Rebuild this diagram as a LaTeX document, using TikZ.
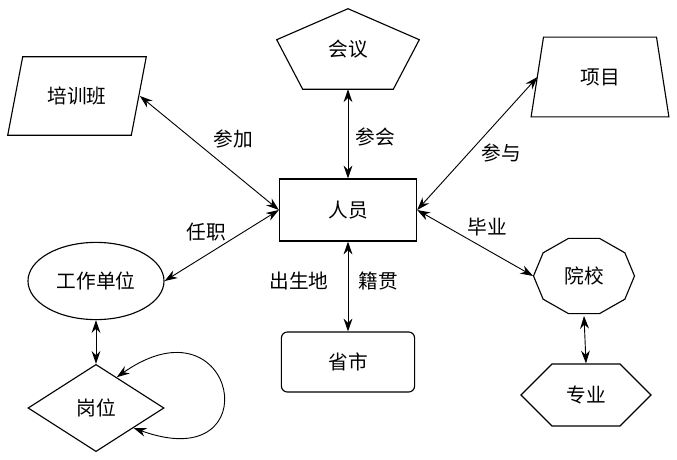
\documentclass[tikz,border=0pt]{standalone}
\usepackage{fontspec}
\usepackage{tikz}
\usetikzlibrary{shapes.geometric,shapes.symbols,arrows.meta,calc}
\newfontfamily\cjkfont{Noto Sans CJK SC}
\tikzset{
    every node/.style={font=\cjkfont\fontsize{14}{17}\selectfont, inner sep=0pt}
}
\tikzset{
    every edge/.append style={<->, line width=0.65pt}
}
\tikzset{
    >={Stealth[length=3.2mm,width=2.2mm]},
    outline/.style={draw, line width=0.8pt},
    selfloop/.style={out=35,in=-20,looseness=7}
}

\begin{document}
\begin{tikzpicture}[x=0.025cm,y=-0.025cm]
	\useasboundingbox (0,0) rectangle (677,460);
	\node [outline, minimum width=3.43cm, minimum height=1.55cm] (person) at (348,210) {人员};
	\node [outline, rounded corners=0.15cm, minimum width=3.33cm, minimum height=1.5cm] (city) at (348,362) {省市};
	\node [outline, ellipse, minimum width=3.4cm, minimum height=1.93cm] (work) at (96,281) {工作单位};
	\node [outline, diamond, minimum width=3.4cm, minimum height=2.18cm] (post) at (96,408) {岗位};
	\node [outline, signal, signal to=east and west, signal pointer angle=90, minimum width=3.25cm, minimum height=1.55cm] (major) at (586,395) {专业};
	\node [minimum width=3.45cm, minimum height=1.95cm] (train) at (77,96) {培训班};
	\node [minimum width=3.43cm, minimum height=1.98cm] (project) at (600,77) {项目};
	\node [ellipse, minimum width=2.53cm, minimum height=1.98cm] (school) at (584,276) {院校};
	\node [minimum width=3.55cm, minimum height=2cm] (meet) at (348,49) {会议};
	\draw [outline] ([xshift=3.75mm]train.north west) -- (train.north east) -- ([xshift=-3.75mm]train.south east)
		-- (train.south west) -- cycle;
	\draw [outline] ([xshift=3.1mm]project.north west) -- ([xshift=-3.1mm]project.north east) -- (project.south east)
		-- (project.south west) -- cycle;
	\draw [outline] (meet.north) -- ([yshift=-7.75mm]meet.north east) -- ([xshift=-6.5mm]meet.south east)
		-- ([xshift=6.5mm]meet.south west) -- ([yshift=-7.75mm]meet.north west) -- cycle;
	\draw [outline] ($(school.center)+(50.5,0)$)
		\foreach \a in {36,72,...,324} {-- ($(school.center)+({50.5*cos(\a)},{39.5*sin(\a)})$)} -- cycle;
	\node (join) at (233,139) {参加};
	\node (hold) at (206,232) {任职};
	\node (take) at (501,153) {参与};
	\node (grad) at (487,227) {毕业};
	\node (attend) at (375,137) {参会};
	\node (born) at (299,281) {出生地};
	\node (native) at (378,281) {籍贯};
	\draw ([xshift=-1.6mm]train.east) edge (person.west); \draw (work.east) edge (person.west);
	\draw ([xshift=1.6mm]project.west) edge (person.east); \draw (person.east) edge (school.west);
	\draw (meet.south) edge (person.north); \draw (person.south) edge (city.north);
	\draw (work.south) edge (post.north); \draw (school.south) edge (major.north);
	\draw (post.56) edge [selfloop] (post.-28);
\end{tikzpicture}
\end{document}
